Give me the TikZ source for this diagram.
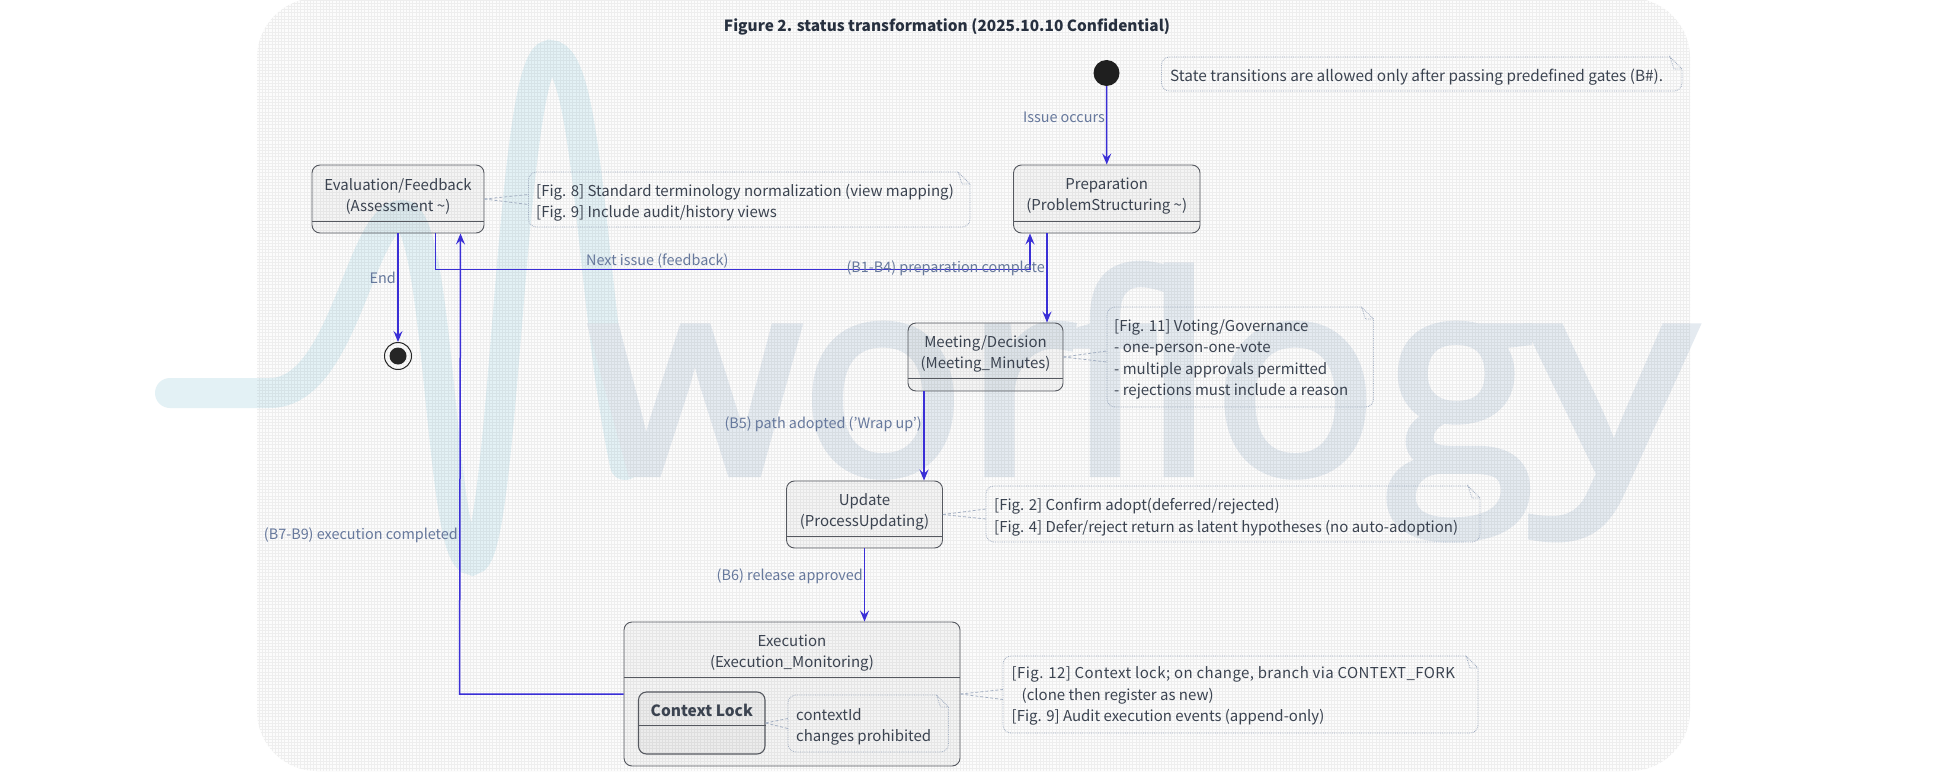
\documentclass[tikz,border=0pt]{standalone}
\usepackage{fontspec}
\setmainfont{Noto Sans CJK KR}
\newfontfamily\wmfont{Open Sans}[FakeBold=3]
\usetikzlibrary{arrows.meta}
\definecolor{cardfill}{HTML}{FCFCFC}
\definecolor{wavec}{HTML}{E3F1F5}
\definecolor{wmc}{HTML}{E4EAF0}
\definecolor{inkc}{HTML}{3B4350}
\definecolor{titlec}{HTML}{27303F}
\definecolor{labelc}{HTML}{66789C}
\definecolor{arrowc}{HTML}{3A2FD6}
\definecolor{boxc}{HTML}{55585F}
\definecolor{notec}{HTML}{A3AFC2}
\tikzset{
  statebox/.style={draw=boxc,line width=.9pt,rounded corners=8pt,fill=black,fill opacity=.03,inner sep=0pt,text opacity=1},
  statetext/.style={text=inkc,align=center,inner sep=0pt,font=\fontsize{15}{21}\selectfont},
  divline/.style={draw=boxc,line width=.9pt},
  notetext/.style={text=inkc,align=left,anchor=west,inner sep=0pt,font=\fontsize{15}{21.5}\selectfont},
  noteline/.style={draw=notec,line width=.8pt,densely dotted},
  notelink/.style={draw=notec,line width=.8pt,densely dashed},
  notenode/.style={inner sep=0pt,draw=none},
  edgelabel/.style={text=labelc,inner sep=0pt,font=\fontsize{14.4}{18}\selectfont},
  flow/.style={draw=arrowc,line width=1.5pt,-{Stealth[length=11pt,width=9pt,inset=4pt]}},
}
\newcommand{\notebox}[5]{%
  \node[notenode,minimum width={#4-#2},minimum height={#5-#3}] (#1) at ({(#2+#4)/2},{(#3+#5)/2}) {};
  \draw[noteline,rounded corners=8pt] ({#4-12},#3) -- (#2,#3) -- (#2,#5) -- (#4,#5) [sharp corners] -- (#4,{#3+12}) -- ({#4-12},#3) -- ({#4-8},{#3+12}) -- (#4,{#3+12});
}
\begin{document}
\begin{tikzpicture}[x=1pt,y=-1pt]
\useasboundingbox (0,0) rectangle (1948,773);
\fill[white] (0,0) rectangle (1948,773);
\fill[cardfill,rounded corners=60pt] (257,-2) rectangle (1690,771);
% watermark
\draw[wavec,line width=30pt,line cap=round] (170,393) -- (270,393) .. controls (345,393) and (360,215) .. (402,215) .. controls (440,215) and (440,560) .. (472,560) .. controls (505,560) and (510,55) .. (550,55) .. controls (590,55) and (590,300) .. (625,465);
\node[text=wmc,inner sep=0pt,anchor=base west,font=\wmfont\fontsize{272}{280}\selectfont] (wm) at (589,473) {wor\kern-12pt f\kern-12pt lo\kern8pt g\kern-4pt\scalebox{1.2}[1]{y}};
% texture
\begin{scope}
\clip[rounded corners=60pt] (257,-2) rectangle (1690,771);
\draw[black,opacity=.055,line width=.7pt,step=3.2pt] (250,-5) grid (1700,775);
\end{scope}
% title
\node[text=titlec,inner sep=0pt,font=\bfseries\fontsize{15.4}{20}\selectfont] (title) at (947,27) {Figure 2. status transformation (2025.10.10 Confidential)};
% start, end
\node[circle,fill=black!88,minimum size=26pt,inner sep=0pt] (start) at (1106.5,73) {};
\node[circle,draw=black!85,line width=1pt,minimum size=27pt,inner sep=0pt] (endo) at (398,356) {};
\node[circle,fill=black!85,minimum size=17pt,inner sep=0pt] (endi) at (398,356) {};
% states
\node[statebox,minimum width=172pt,minimum height=68pt] (eval) at (398,199) {};
\node[statetext] (evalt) at (398,196.5) {Evaluation/Feedback\\(Assessment \textasciitilde)};
\draw[divline] ([yshift=12pt]eval.south west) -- ([yshift=12pt]eval.south east);
\node[statebox,minimum width=186.5pt,minimum height=68pt] (prep) at (1106.75,199) {};
\node[statetext] (prept) at (1106.75,196.5) {Preparation\\(ProblemStructuring \textasciitilde)};
\draw[divline] ([yshift=12pt]prep.south west) -- ([yshift=12pt]prep.south east);
\node[statebox,minimum width=155pt,minimum height=68pt] (meet) at (985.5,357) {};
\node[statetext] (meett) at (985.5,354) {Meeting/Decision\\(Meeting\_Minutes)};
\draw[divline] ([yshift=13pt]meet.south west) -- ([yshift=13pt]meet.south east);
\node[statebox,minimum width=156pt,minimum height=67pt] (upd) at (864.5,514.5) {};
\node[statetext] (updt) at (864.5,511.5) {Update\\(ProcessUpdating)};
\draw[divline] ([yshift=12pt]upd.south west) -- ([yshift=12pt]upd.south east);
\node[statebox,minimum width=336pt,minimum height=144pt] (exec) at (792,694) {};
\node[statetext] (exect) at (792,653.5) {Execution\\(Execution\_Monitoring)};
\draw[divline] ([yshift=-56pt]exec.north west) -- ([yshift=-56pt]exec.north east);
\node[statebox,line width=1.1pt,minimum width=126.5pt,minimum height=62pt] (lock) at (701.75,723) {};
\node[statetext,font=\bfseries\fontsize{15.5}{21}\selectfont] (lockt) at (701.75,710.5) {Context Lock};
\draw[divline] ([yshift=-34pt]lock.north west) -- ([yshift=-34pt]lock.north east);
% notes
\notebox{nhead}{1161.5}{57}{1682}{91}
\node[notetext,font=\fontsize{15.35}{21}\selectfont] (nheadt) at (1170,77) {State transitions are allowed only after passing predefined gates (B\#).};
\notebox{neval}{528.5}{172}{970}{227}
\node[notetext] (nevalt) at (536,202.5) {[Fig. 8] Standard terminology normalization (view mapping)\\{}[Fig. 9] Include audit/history views};
\notebox{nmeet}{1107}{307}{1373.5}{407}
\node[notetext] (nmeett) at (1114,359.5) {[Fig. 11] Voting/Governance\\- one-person-one-vote\\- multiple approvals permitted\\- rejections must include a reason};
\notebox{nupd}{986}{486}{1480}{542}
\node[notetext] (nupdt) at (994,517) {[Fig. 2] Confirm adopt(deferred/rejected)\\{}[Fig. 4] Defer/reject return as latent hypotheses (no auto-adoption)};
\notebox{nexec}{1003}{656}{1478}{733}
\node[notetext] (nexect) at (1011.5,696) {\addfontfeature{LetterSpace=2.7}[Fig. 12] Context lock; on change, branch via CONTEXT\_FORK\\\hspace*{10pt}(clone then register as new)\\{}[Fig. 9] Audit execution events (append-only)};
\notebox{nlock}{788}{695}{948.5}{752}
\node[notetext] (nlockt) at (796,727) {contextId\\changes prohibited};
% note links
\draw[notelink] (eval.east) -- ([yshift=5pt]neval.west);
\draw[notelink] (eval.east) -- ([yshift=-5pt]neval.west);
\draw[notelink] (meet.east) -- ([yshift=6pt]nmeet.west);
\draw[notelink] (meet.east) -- ([yshift=-5pt]nmeet.west);
\draw[notelink] (upd.east) -- ([yshift=5pt]nupd.west);
\draw[notelink] (upd.east) -- ([yshift=-5pt]nupd.west);
\draw[notelink] (exec.east) -- ([yshift=5pt]nexec.west);
\draw[notelink] (exec.east) -- ([yshift=-5pt]nexec.west);
\draw[notelink] (lock.east) -- ([yshift=5pt]nlock.west);
\draw[notelink] (lock.east) -- ([yshift=-5pt]nlock.west);
% connectors
\draw[flow] (start.south) -- (prep.north);
\draw[flow] (eval.south) -- (endo.north);
\draw[flow,line width=1.9pt] ([xshift=37.5pt]eval.south) |- ++(0,36) -| ([xshift=-76.75pt]prep.south);
\draw[flow] ([xshift=-59.75pt]prep.south) -- ([xshift=61.5pt]meet.north);
\draw[flow] ([xshift=-61.5pt]meet.south) -- ([xshift=59.5pt]upd.north);
\draw[flow] (upd.south) -- ([xshift=72.5pt]exec.north);
\draw[flow] (exec.west) -- ++(-164,0) -- ([xshift=62.5pt]eval.south);
% edge labels
\node[edgelabel,anchor=east] (l1) at (1105,117) {Issue occurs};
\node[edgelabel,anchor=east] (l2) at (396,278) {End};
\node[edgelabel,anchor=west] (l3) at (586,261) {Next issue (feedback)};
\node[edgelabel,anchor=east] (l4) at (1045,268) {(B1-B4) preparation complete};
\node[edgelabel,anchor=east] (l5) at (922,424) {(B5) path adopted ('Wrap up')};
\node[edgelabel,anchor=east] (l6) at (863,576) {(B6) release approved};
\node[edgelabel,anchor=east] (l7) at (458,535) {(B7-B9) execution completed};
\end{tikzpicture}
\end{document}
